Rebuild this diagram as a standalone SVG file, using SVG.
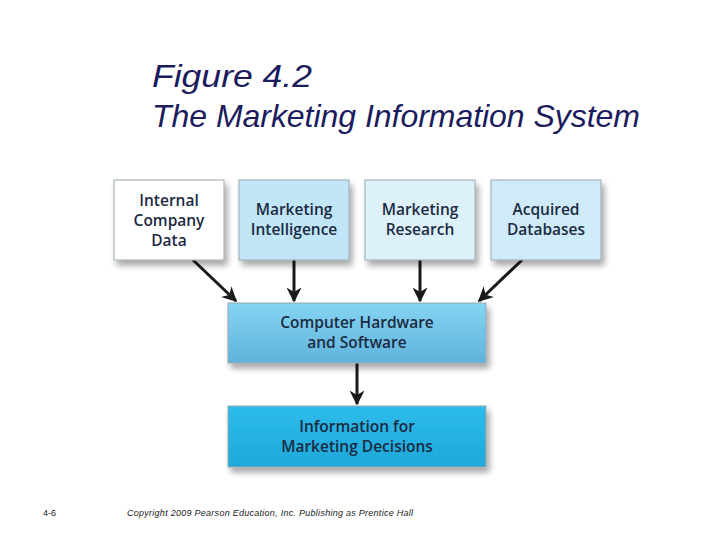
<svg xmlns="http://www.w3.org/2000/svg" width="720" height="540" viewBox="0 0 720 540">
<style>
.title{font-family:"Liberation Sans",Arial,sans-serif;font-style:italic;font-size:32px;fill:#1b1b5e}
.lbl{font-family:"Open Sans","Noto Sans",sans-serif;font-weight:600;font-size:15.5px;fill:#1c2b42;text-anchor:middle}
.foot{font-family:"Liberation Sans",Arial,sans-serif;font-size:9px;fill:#222}
.box{stroke:#9aa7b0;stroke-width:1}
.conn{stroke:#1a1a1a;stroke-width:3;fill:none;marker-end:url(#ah)}
</style>
<defs>
<filter id="sh" x="-10%" y="-10%" width="130%" height="140%">
<feGaussianBlur in="SourceAlpha" stdDeviation="3"/>
<feOffset dx="3" dy="5" result="b"/>
<feComponentTransfer><feFuncA type="linear" slope="0.35"/></feComponentTransfer>
<feMerge><feMergeNode/><feMergeNode in="SourceGraphic"/></feMerge>
</filter>
<linearGradient id="g5" x1="0" y1="0" x2="0" y2="1">
<stop offset="0" stop-color="#86d4f3"/><stop offset="1" stop-color="#5fb3dc"/>
</linearGradient>
<linearGradient id="g6" x1="0" y1="0" x2="0" y2="1">
<stop offset="0" stop-color="#2dbcec"/><stop offset="1" stop-color="#1fa8da"/>
</linearGradient>
<marker id="ah" viewBox="0 0 10 10" refX="9" refY="5" markerWidth="5" markerHeight="5" orient="auto" markerUnits="strokeWidth">
<path d="M0,0 L10,5 L0,10 L3,5 Z" fill="#1a1a1a"/>
</marker>
</defs>
<rect width="720" height="540" fill="#ffffff"/>
<text class="title" x="152" y="87" font-size="35" textLength="160" lengthAdjust="spacingAndGlyphs">Figure 4.2</text>
<text class="title" x="152" y="127" textLength="488" lengthAdjust="spacing">The Marketing Information System</text>

<g id="connectors">
<line class="conn" x1="193" y1="260" x2="236" y2="301"/>
<line class="conn" x1="294" y1="260" x2="294" y2="301"/>
<line class="conn" x1="420" y1="260" x2="420" y2="301"/>
<line class="conn" x1="522" y1="260" x2="479" y2="301"/>
<line class="conn" x1="357" y1="363" x2="357" y2="404"/>
</g>

<g id="internal">
<rect class="box" x="114" y="180" width="110" height="80" fill="#ffffff" filter="url(#sh)"/>
<text class="lbl" x="169" y="206">Internal</text>
<text class="lbl" x="169" y="226">Company</text>
<text class="lbl" x="169" y="246">Data</text>
</g>
<g id="intelligence">
<rect class="box" x="239" y="180" width="110" height="80" fill="#c0e6f8" filter="url(#sh)"/>
<text class="lbl" x="294" y="215">Marketing</text>
<text class="lbl" x="294" y="235">Intelligence</text>
</g>
<g id="research">
<rect class="box" x="365" y="180" width="110" height="80" fill="#ddf1fb" filter="url(#sh)"/>
<text class="lbl" x="420" y="215">Marketing</text>
<text class="lbl" x="420" y="235">Research</text>
</g>
<g id="databases">
<rect class="box" x="491" y="180" width="110" height="80" fill="#cfeaf8" filter="url(#sh)"/>
<text class="lbl" x="546" y="215">Acquired</text>
<text class="lbl" x="546" y="235">Databases</text>
</g>
<g id="computer">
<rect class="box" x="228" y="303" width="258" height="60" fill="url(#g5)" filter="url(#sh)"/>
<text class="lbl" x="357" y="328">Computer Hardware</text>
<text class="lbl" x="357" y="348">and Software</text>
</g>
<g id="information">
<rect class="box" x="228" y="406" width="258" height="61" fill="url(#g6)" filter="url(#sh)"/>
<text class="lbl" x="357" y="432">Information for</text>
<text class="lbl" x="357" y="452">Marketing Decisions</text>
</g>

<text class="foot" x="43" y="516">4-6</text>
<text class="foot" x="127" y="516" font-style="italic" textLength="286" lengthAdjust="spacing">Copyright 2009 Pearson Education, Inc. Publishing as Prentice Hall</text>
</svg>
